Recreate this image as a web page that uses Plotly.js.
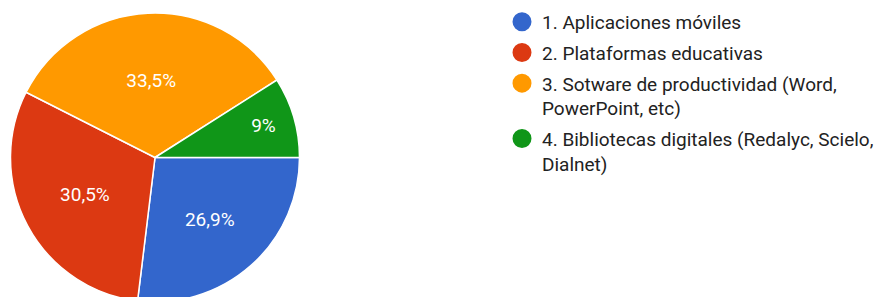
<!DOCTYPE html>
<html>
<head>
<meta charset="utf-8">
<script src="https://cdn.plot.ly/plotly-3.0.1.min.js"></script>
<style>
html,body{margin:0;padding:0;overflow:hidden;background:#fff;width:884px;height:297px;}
#chart{width:884px;height:305px;}
</style>
</head>
<body>
<div id="chart"></div>
<script>
const categories = [
  "1. Aplicaciones móviles",
  "2. Plataformas educativas",
  "3. Sotware de productividad (Word,<br>PowerPoint, etc)",
  "4. Bibliotecas digitales (Redalyc, Scielo,<br>Dialnet)"
];
const percentages = [26.9, 30.5, 33.5, 9];
const percentLabels = ["26,9%", "30,5%", "33,5%", "9%"];
const colors = ["#3366cc", "#dc3912", "#ff9900", "#109618"];

const W = 884, H = 305;
const traces = [{
  type: "pie",
  values: percentages,
  labels: categories,
  text: percentLabels,
  textinfo: "text",
  textposition: "inside",
  insidetextorientation: "horizontal",
  insidetextfont: {family: "Roboto, Arial, sans-serif", size: 19, color: "#ffffff"},
  sort: false,
  direction: "clockwise",
  rotation: 90,
  marker: {colors: colors, line: {color: "#ffffff", width: 1.5}},
  showlegend: false,
  hoverinfo: "none",
  domain: {x: [10.5 / W, 299.5 / W], y: [0, 1]}
}];
categories.forEach((c, i) => {
  traces.push({
    type: "scatter",
    mode: "markers",
    x: [null], y: [null],
    name: c,
    legendgroup: "g" + i,
    marker: {symbol: "circle", size: 16, color: colors[i], line: {color: colors[i], width: 3}},
    showlegend: true,
    hoverinfo: "none"
  });
});

const layout = {
  width: W, height: H,
  margin: {l: 0, r: 0, t: 13, b: 3},
  paper_bgcolor: "#ffffff",
  plot_bgcolor: "#ffffff",
  font: {family: "Roboto, Arial, sans-serif", size: 19, color: "#222222"},
  xaxis: {visible: false, domain: [0.99, 1]},
  yaxis: {visible: false},
  showlegend: true,
  legend: {
    x: 502 / W, xanchor: "left",
    y: 1.035, yanchor: "top",
    font: {family: "Roboto, Arial, sans-serif", size: 19, color: "#222222"},
    itemwidth: 30,
    valign: "top",
    tracegroupgap: 3,
    maxheight: 1,
    bgcolor: "rgba(0,0,0,0)"
  }
};

Plotly.newPlot("chart", traces, layout, {displayModeBar: false, staticPlot: true});
</script>
</body>
</html>
